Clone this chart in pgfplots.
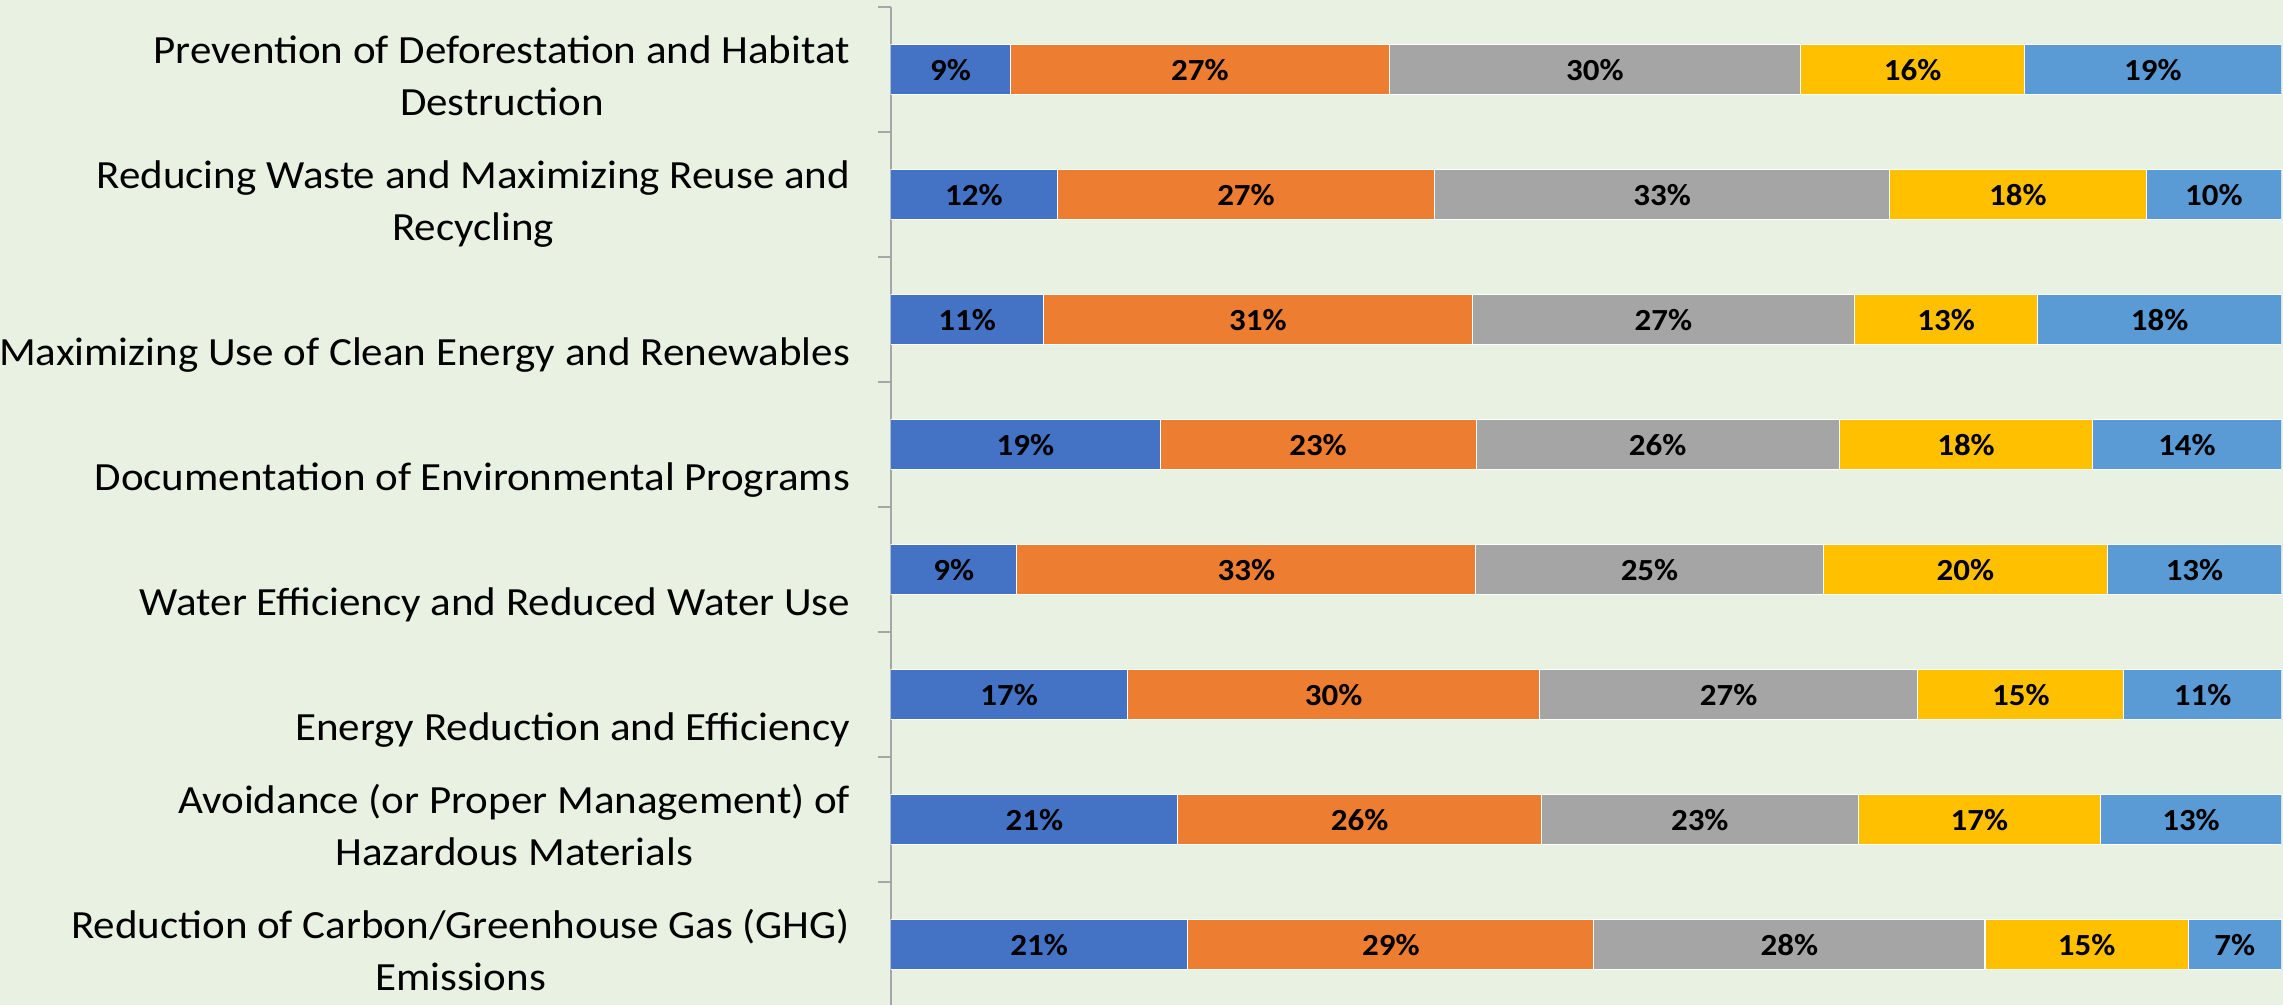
\documentclass[border=0pt]{standalone}
\usepackage{pgfplots}
\pgfplotsset{compat=1.18}
\usepackage{pgfplotstable}
\usepackage{fontspec}
\setmainfont{Carlito}[FakeStretch=1.075]
\definecolor{bgc}{RGB}{233,242,226}
\definecolor{axgray}{RGB}{166,166,166}
\definecolor{cA}{HTML}{4472C4}
\definecolor{cB}{HTML}{ED7D31}
\definecolor{cC}{HTML}{A5A5A5}
\definecolor{cD}{HTML}{FFC000}
\definecolor{cE}{HTML}{5B9BD5}
\pgfplotstableread{
y a b c d e la lb lc ld le
7 8.62 27.22 29.60 16.09 18.47 9 27 30 16 19
6 11.97 27.16 32.69 18.47 9.71 12 27 33 18 10
5 11.00 30.82 27.48 13.19 17.51 11 31 27 13 18
4 19.37 22.72 26.13 18.21 13.57 19 23 26 18 14
3 9.07 33.01 24.97 20.46 12.49 9 33 25 20 13
2 17.05 29.60 27.22 14.80 11.33 17 30 27 15 11
1 20.66 26.13 22.78 17.44 12.99 21 26 23 17 13
0 21.36 29.21 28.12 14.61 6.70 21 29 28 15 7
}\data
\begin{document}
\begin{tikzpicture}
\fill[bgc] (0,0) rectangle (684.9pt,301.5pt);
\begin{axis}[
  at={(267.2pt,299.3pt)}, anchor=north west,
  scale only axis, width=417.2pt, height=300pt,
  xbar stacked, bar width=15pt,
  xmin=0, xmax=100, ymin=-0.5, ymax=7.5,
  axis x line=none, axis y line*=left,
  axis line style={draw=axgray, line width=0.6pt},
  ytick={0,...,7},
  yticklabels={
    {\strut Reduction of Carbon/Greenhouse Gas (GHG)\\\strut Emissions},
    {\strut Avoidance (or Proper Management) of\\\strut Hazardous Materials},
    {\strut\\\strut Energy Reduction and Efficiency},
    {\strut\\\strut Water Efficiency and Reduced Water Use},
    {\strut\\\strut Documentation of Environmental Programs},
    {\strut\\\strut Maximizing Use of Clean Energy and Renewables},
    {\strut Reducing Waste and Maximizing Reuse and\\\strut Recycling},
    {\strut Prevention of Deforestation and Habitat\\\strut Destruction}},
  yticklabel style={align=center, font=\fontsize{12}{15.6}\selectfont, inner sep=0pt, xshift=-12pt, yshift=-2.7pt, text=black},
  minor ytick={-0.5,0.5,...,7.5},
  tick align=outside, major tick length=0pt, minor tick length=3.9pt,
  tick style={draw=axgray, line width=0.6pt},
  point meta=explicit symbolic,
  nodes near coords={\pgfplotspointmeta\%},
  every node near coord/.append style={anchor=center, font=\bfseries\fontsize{9.2}{11}\selectfont, text=black},
  every axis plot/.append style={draw=white, line width=0.3pt},
]
\addplot[fill=cA] table[x=a, y=y, meta=la]{\data};
\addplot[fill=cB] table[x=b, y=y, meta=lb]{\data};
\addplot[fill=cC] table[x=c, y=y, meta=lc]{\data};
\addplot[fill=cD] table[x=d, y=y, meta=ld]{\data};
\addplot[fill=cE] table[x=e, y=y, meta=le]{\data};
\end{axis}
\pgfresetboundingbox
\path (0,0) rectangle (684.9pt,301.5pt);
\end{tikzpicture}
\end{document}
